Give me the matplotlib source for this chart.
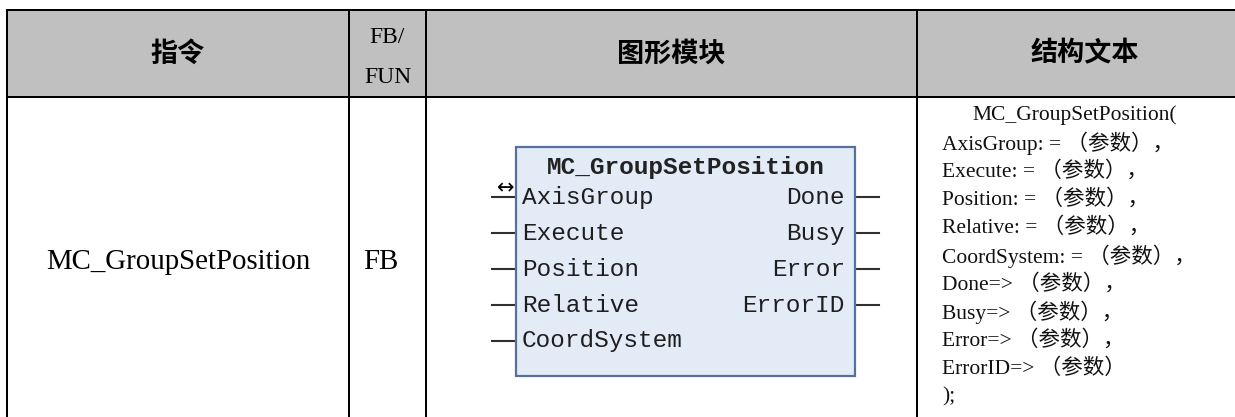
# plot.py
# draw the instruction table for MC_GroupSetPosition: header, FB block and ST text

import matplotlib
matplotlib.use("Agg")
import matplotlib.pyplot as plt
from matplotlib.patches import Rectangle

# table contents
headers = ["指令", "FB/", "图形模块", "结构文本"]
header_sub = "FUN"
instruction = "MC_GroupSetPosition"
fb_type = "FB"

# function block pins
block_name = "MC_GroupSetPosition"
inputs = ["AxisGroup", "Execute", "Position", "Relative", "CoordSystem"]
outputs = ["Done", "Busy", "Error", "ErrorID"]

# structured text lines
st_lines = ["MC_GroupSetPosition(", "AxisGroup: = （参数），", "Execute: = （参数），",
            "Position: = （参数），", "Relative: = （参数），", "CoordSystem: = （参数），",
            "Done=> （参数），", "Busy=> （参数），", "Error=> （参数），",
            "ErrorID=> （参数）", ");"]

# layout in pixels
W, H, DPI = 1235, 417, 100
col_x = [7, 349, 426, 917, 1253]
top, head_bot = 10, 97
lw = 2 * 72 / DPI   # 2 px lines

fig = plt.figure(figsize=(W / DPI, H / DPI), dpi=DPI)
ax = fig.add_axes([0, 0, 1, 1])
ax.set_xlim(0, W)
ax.set_ylim(H, 0)
ax.axis("off")

# header background and grid lines
ax.add_patch(Rectangle((col_x[0], top), col_x[-1] - col_x[0], head_bot - top,
                       facecolor="#c0c0c0", edgecolor="none", zorder=0))
for x in col_x:
    ax.plot([x, x], [top, H + 5], color="black", lw=lw, solid_capstyle="projecting")
for y in [top, head_bot]:
    ax.plot([col_x[0], col_x[-1]], [y, y], color="black", lw=lw, solid_capstyle="projecting")

# header texts
cjk = ["Noto Sans CJK SC", "DejaVu Sans"]
serif = ["Liberation Serif", "Noto Sans CJK SC", "DejaVu Sans"]
head_c = (top + head_bot) / 2
for i, h in enumerate(headers):
    cx = (col_x[i] + col_x[i + 1]) / 2
    if i == 1:
        ax.text(cx, 37, h, ha="center", va="center", fontsize=17, family=serif)
        ax.text(cx, 77, header_sub, ha="center", va="center", fontsize=17, family=serif)
    else:
        ax.text(cx, head_c, h, ha="center", va="center", fontsize=19.5, family=cjk, fontweight="bold")

# first two columns of the data row
ax.text((col_x[0] + col_x[1]) / 2, 262, instruction, ha="center", va="center",
        fontsize=20.8, family=serif)
ax.text(col_x[1] + 14, 262, fb_type, ha="left", va="center", fontsize=20.8, family=serif)

# function block
bx0, bx1, by0, by1 = 516, 855, 147, 376
pin0, pitch, stub = 197, 36, 24
ax.add_patch(Rectangle((bx0, by0), bx1 - bx0, by1 - by0, facecolor="#e3ebf7",
                       edgecolor="#56729c", lw=1.6, zorder=2))
ax.text((bx0 + bx1) / 2, 167, block_name, ha="center", va="center", fontsize=17.6,
        family="Liberation Mono", fontweight="bold", color="#222222", zorder=3)
for i, name in enumerate(inputs):
    y = pin0 + i * pitch
    ax.plot([bx0 - stub, bx0], [y, y], color="#303030", lw=1.5, zorder=1)
    ax.text(bx0 + 6, y, name, ha="left", va="center", fontsize=17.6,
            family="Liberation Mono", color="#1e1e1e", zorder=3)
for i, name in enumerate(outputs):
    y = pin0 + i * pitch
    ax.plot([bx1, bx1 + stub], [y, y], color="#303030", lw=1.5, zorder=1)
    ax.text(bx1 - 10, y, name, ha="right", va="center", fontsize=17.6,
            family="Liberation Mono", color="#1e1e1e", zorder=3)
# in/out marker on the axis group pin
ax.text(bx0 - 10, pin0 - 9, "↔", ha="center", va="center", fontsize=15, color="black", zorder=3)

# structured text column
st_x, st_indent, st_y0, st_pitch = 942, 30, 115, 28.2
for i, line in enumerate(st_lines):
    x = st_x + (st_indent if i == 0 else 0)
    ax.text(x, st_y0 + i * st_pitch, line, ha="left", va="center", fontsize=15.5,
            family=serif, color="#111111")

fig.savefig("out.png", dpi=DPI)
